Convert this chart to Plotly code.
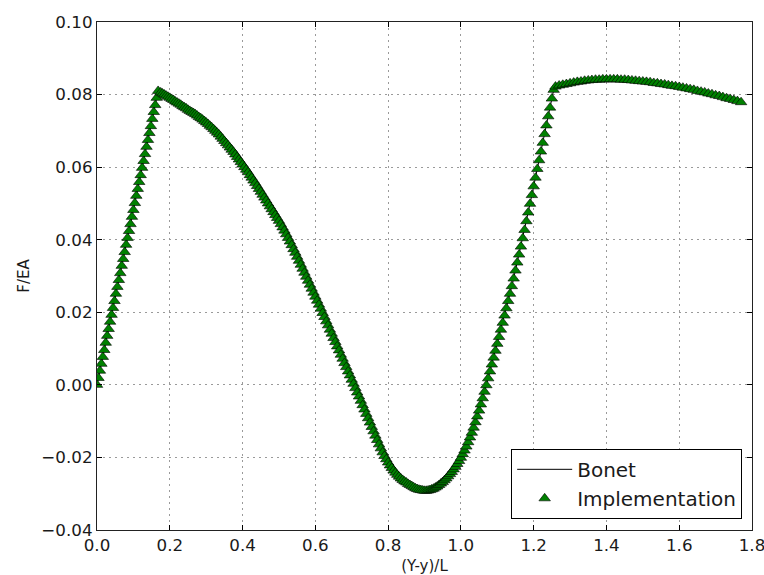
import plotly.graph_objects as go

# Elastic loading branch
x_load = [0.000, 0.004, 0.008, 0.012, 0.016, 0.020, 0.024, 0.028, 0.032, 0.036,
          0.040, 0.044, 0.048, 0.052, 0.056, 0.060, 0.064, 0.068, 0.072, 0.076,
          0.080, 0.084, 0.088, 0.092, 0.096, 0.100, 0.104, 0.108, 0.112, 0.116,
          0.120, 0.124, 0.128, 0.132, 0.136, 0.140, 0.144, 0.148, 0.152, 0.156,
          0.160, 0.164, 0.168]
y_load = [0.0000, 0.0019, 0.0039, 0.0058, 0.0077, 0.0096, 0.0116, 0.0135, 0.0154, 0.0174,
          0.0193, 0.0212, 0.0231, 0.0251, 0.0270, 0.0289, 0.0308, 0.0328, 0.0347, 0.0366,
          0.0386, 0.0405, 0.0424, 0.0443, 0.0463, 0.0482, 0.0501, 0.0521, 0.0540, 0.0559,
          0.0578, 0.0598, 0.0617, 0.0636, 0.0656, 0.0675, 0.0694, 0.0713, 0.0733, 0.0752,
          0.0771, 0.0791, 0.0810]

# Softening branch down to the valley
x_soft = [0.175, 0.18, 0.185, 0.19, 0.195, 0.20, 0.205, 0.21, 0.215, 0.22,
          0.225, 0.23, 0.235, 0.24, 0.245, 0.25, 0.255, 0.26, 0.265, 0.27,
          0.275, 0.28, 0.285, 0.29, 0.295, 0.30, 0.305, 0.31, 0.315, 0.32,
          0.325, 0.33, 0.335, 0.34, 0.345, 0.35, 0.355, 0.36, 0.365, 0.37,
          0.375, 0.38, 0.385, 0.39, 0.395, 0.40, 0.405, 0.41, 0.415, 0.42,
          0.425, 0.43, 0.435, 0.44, 0.445, 0.45, 0.455, 0.46, 0.465, 0.47,
          0.475, 0.48, 0.485, 0.49, 0.495, 0.50,
          0.505, 0.510, 0.515, 0.520, 0.525, 0.530, 0.535,
          0.540, 0.545, 0.550, 0.555, 0.560, 0.565, 0.570, 0.575, 0.580, 0.585,
          0.590, 0.595, 0.600, 0.605, 0.610, 0.615, 0.620, 0.625, 0.630, 0.635,
          0.640, 0.645, 0.650, 0.655, 0.660, 0.665, 0.670, 0.675, 0.680, 0.685,
          0.690, 0.695, 0.700, 0.705, 0.710, 0.715, 0.720, 0.725, 0.730, 0.735,
          0.740, 0.745, 0.750, 0.755, 0.760, 0.765, 0.770, 0.775, 0.780, 0.785,
          0.790, 0.795, 0.800, 0.805, 0.81, 0.815, 0.82, 0.825, 0.83, 0.835,
          0.84, 0.845, 0.85, 0.855, 0.86, 0.865, 0.87, 0.875, 0.88, 0.885,
          0.89, 0.895, 0.90, 0.905, 0.91, 0.915, 0.92, 0.925, 0.93, 0.935,
          0.94, 0.945, 0.95, 0.955, 0.96, 0.965, 0.97, 0.975, 0.98, 0.985,
          0.99, 0.995, 1.00]
y_soft = [0.0806, 0.0803, 0.0800, 0.0797, 0.0794, 0.0791, 0.0788, 0.0785, 0.0781, 0.0778,
          0.0775, 0.0772, 0.0768, 0.0765, 0.0762, 0.0758, 0.0755, 0.0752, 0.0749, 0.0746,
          0.0742, 0.0738, 0.0735, 0.0731, 0.0727, 0.0723, 0.0719, 0.0714, 0.0710, 0.0705,
          0.0700, 0.0695, 0.0690, 0.0684, 0.0678, 0.0672, 0.0666, 0.0660, 0.0654, 0.0648,
          0.0642, 0.0635, 0.0628, 0.0621, 0.0614, 0.0607, 0.0600, 0.0593, 0.0586, 0.0578,
          0.0571, 0.0563, 0.0556, 0.0548, 0.0540, 0.0532, 0.0524, 0.0516, 0.0508, 0.0500,
          0.0492, 0.0484, 0.0476, 0.0468, 0.0460, 0.0452,
          0.0443, 0.0434, 0.0425, 0.0415, 0.0405, 0.0395, 0.0385,
          0.0374, 0.0364, 0.0353, 0.0342, 0.0331, 0.0320, 0.0309, 0.0298, 0.0287, 0.0276,
          0.0265, 0.0254, 0.0243, 0.0232, 0.0221, 0.0210, 0.0198, 0.0187, 0.0175, 0.0164,
          0.0152, 0.0141, 0.0129, 0.0118, 0.0106, 0.0095, 0.0083, 0.0072, 0.0060, 0.0049,
          0.0037, 0.0026, 0.0014, 0.0003, -0.0009, -0.0021, -0.0032, -0.0044, -0.0056, -0.0068,
          -0.0080, -0.0092, -0.0104, -0.0116, -0.0128, -0.0140, -0.0152, -0.0164, -0.0175, -0.0186,
          -0.0196, -0.0205, -0.0214, -0.0222, -0.0229, -0.0236, -0.0242, -0.0248, -0.0253, -0.0258,
          -0.0262, -0.0266, -0.0269, -0.0273, -0.0276, -0.0279, -0.0282, -0.0285, -0.0287, -0.0289,
          -0.0290, -0.0291, -0.0292, -0.0292, -0.0291, -0.0290, -0.0288, -0.0286, -0.0283, -0.0280,
          -0.0276, -0.0272, -0.0268, -0.0263, -0.0258, -0.0252, -0.0246, -0.0240, -0.0233, -0.0226,
          -0.0218, -0.0210, -0.0201]

# Reloading branch after the valley
x_reload = [1.005, 1.010, 1.015, 1.020, 1.025, 1.030, 1.035, 1.040, 1.045, 1.050,
            1.055, 1.060, 1.065, 1.070, 1.075, 1.080, 1.085, 1.090, 1.095, 1.100,
            1.105, 1.110, 1.115, 1.120, 1.125, 1.130, 1.135, 1.140, 1.145, 1.150,
            1.155, 1.160, 1.165, 1.170, 1.175, 1.180, 1.185, 1.190, 1.195, 1.200,
            1.205, 1.210, 1.215, 1.220, 1.225, 1.230, 1.235, 1.240, 1.245, 1.250,
            1.255]
y_reload = [-0.0191, -0.0181, -0.0170, -0.0158, -0.0145, -0.0132, -0.0118, -0.0103, -0.0087, -0.0071,
            -0.0054, -0.0037, -0.0019, -0.0001, 0.0018, 0.0037, 0.0056, 0.0075, 0.0094, 0.0113,
            0.0132, 0.0152, 0.0171, 0.0191, 0.0211, 0.0231, 0.0251, 0.0272, 0.0293, 0.0315,
            0.0337, 0.0359, 0.0381, 0.0404, 0.0427, 0.0451, 0.0475, 0.0499, 0.0523, 0.0547,
            0.0571, 0.0595, 0.0619, 0.0643, 0.0667, 0.0691, 0.0715, 0.0740, 0.0764, 0.0789,
            0.0813]

# Final plateau branch
x_plateau = [1.26, 1.27, 1.28, 1.29, 1.30, 1.31, 1.32, 1.33, 1.34, 1.35,
             1.36, 1.37, 1.38, 1.39, 1.40, 1.41, 1.42, 1.43, 1.44, 1.45,
             1.46, 1.47, 1.48, 1.49, 1.50, 1.51, 1.52, 1.53, 1.54, 1.55,
             1.56, 1.57, 1.58, 1.59, 1.60, 1.61, 1.62, 1.63, 1.64, 1.65,
             1.66, 1.67, 1.68, 1.69, 1.70, 1.71, 1.72, 1.73, 1.74, 1.75,
             1.76, 1.77]
y_plateau = [0.0822, 0.0825, 0.0827, 0.0829, 0.0831, 0.0833, 0.0835, 0.0836, 0.0838, 0.0839,
             0.0840, 0.0841, 0.0841, 0.0842, 0.0842, 0.0842, 0.0842, 0.0842, 0.0841, 0.0841,
             0.0840, 0.0839, 0.0838, 0.0837, 0.0836, 0.0835, 0.0834, 0.0832, 0.0831, 0.0829,
             0.0828, 0.0826, 0.0824, 0.0823, 0.0821, 0.0819, 0.0817, 0.0815, 0.0813, 0.0810,
             0.0808, 0.0806, 0.0803, 0.0801, 0.0798, 0.0796, 0.0793, 0.0790, 0.0788, 0.0785,
             0.0782, 0.0779]

x_vals = x_load + x_soft + x_reload + x_plateau
y_vals = y_load + y_soft + y_reload + y_plateau

x_ticks = [0.0, 0.2, 0.4, 0.6, 0.8, 1.0, 1.2, 1.4, 1.6, 1.8]
y_ticks = [-0.04, -0.02, 0.00, 0.02, 0.04, 0.06, 0.08, 0.10]

FONT = "DejaVu Sans"
TXT = "#1a1a1a"

fig = go.Figure()
fig.add_trace(go.Scatter(
    x=x_vals, y=y_vals, mode="lines", name="Bonet",
    line=dict(color="black", width=1),
))
fig.add_trace(go.Scatter(
    x=x_vals, y=y_vals, mode="markers", name="Implementation",
    marker=dict(symbol="triangle-up", size=10, color="#008000",
                line=dict(color="black", width=0.6)),
))

axis_common = dict(
    showline=True, linecolor="#222222", linewidth=1.3, mirror="allticks",
    ticks="inside", ticklen=5, tickwidth=1, tickcolor="black",
    showgrid=True, gridcolor="#9a9a9a", gridwidth=1, griddash="2px,4px",
    zeroline=False, automargin=False, ticklabeloverflow="allow",
    tickfont=dict(family=FONT, size=16.7, color=TXT),
)

fig.update_xaxes(
    range=[0, 1.800001], tickvals=x_ticks, tickformat=".1f",
    title=dict(text="(Y-y)/L", font=dict(family=FONT, size=15, color=TXT), standoff=8),
    **axis_common,
)
fig.update_yaxes(
    range=[-0.0400001, 0.1000001], tickvals=y_ticks, tickformat=".2f",
    title=dict(text="F/EA", font=dict(family=FONT, size=15, color=TXT), standoff=8),
    **axis_common,
)

fig.update_layout(
    width=764, height=575,
    margin=dict(l=97, r=12, t=22, b=45),
    paper_bgcolor="white", plot_bgcolor="white",
    font=dict(family=FONT, color=TXT),
    legend=dict(
        x=0.985, y=0.022, xanchor="right", yanchor="bottom",
        bgcolor="white", bordercolor="black", borderwidth=1,
        font=dict(family=FONT, size=20, color=TXT),
        itemwidth=55, tracegroupgap=0,
    ),
    showlegend=True,
)

fig.write_html("out.html")
